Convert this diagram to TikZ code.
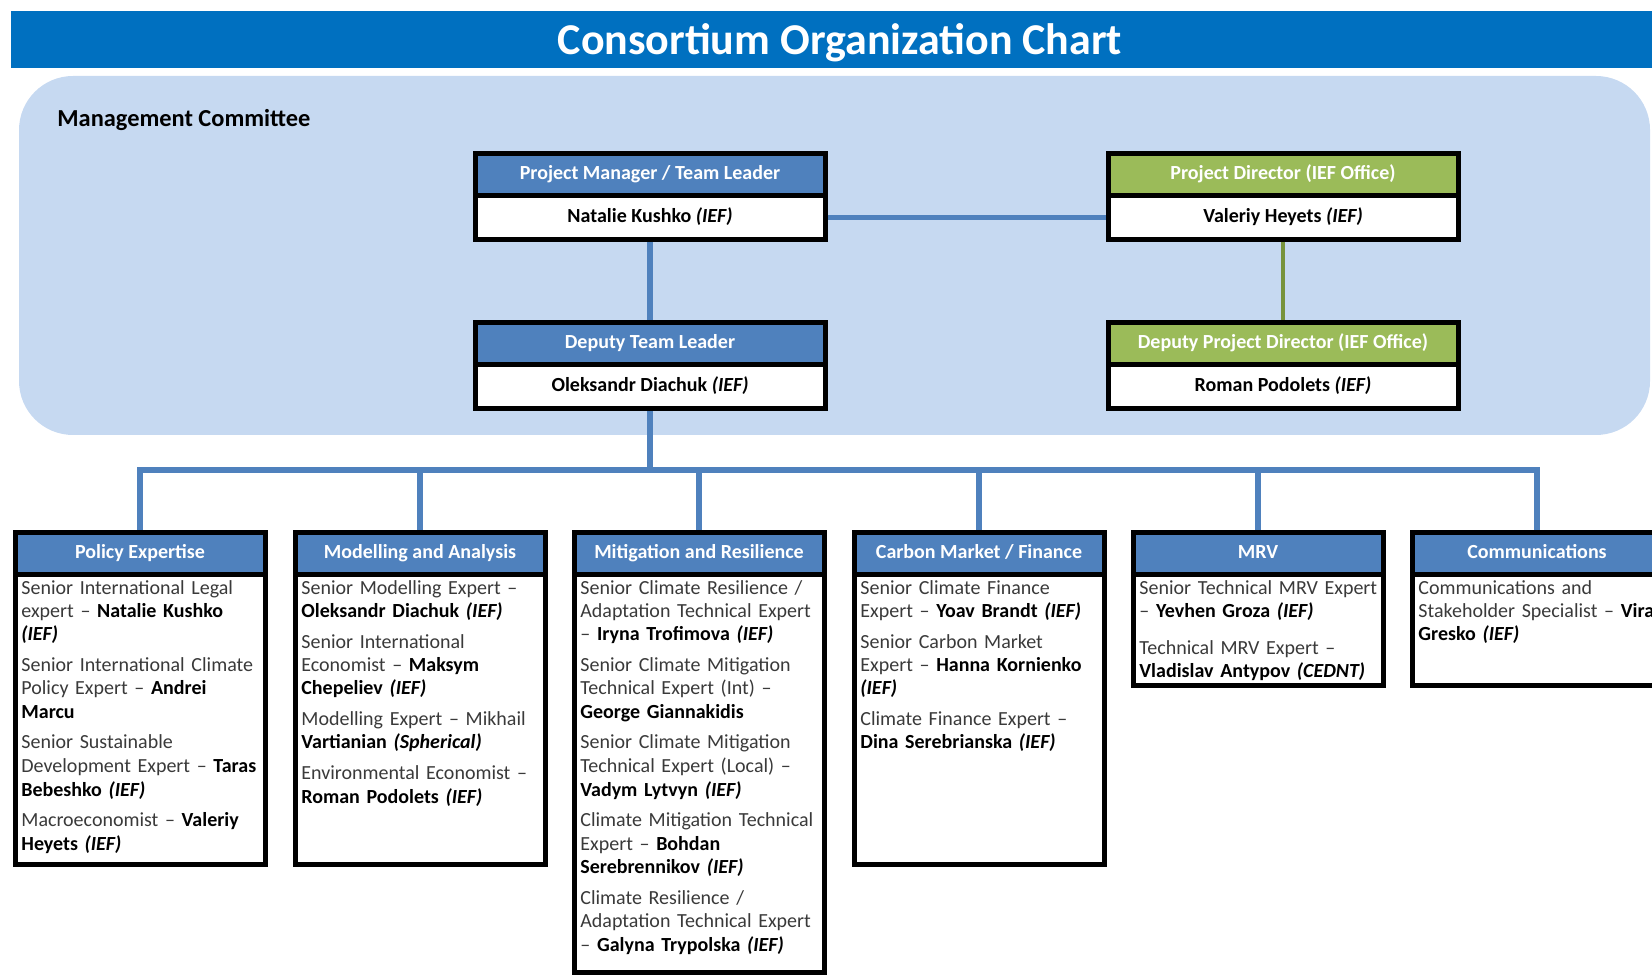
\documentclass[tikz,border=0pt]{standalone}
\usepackage{fontspec}
\setmainfont{Carlito}

\definecolor{titleblue}{HTML}{0070C0}
\definecolor{mgmtbg}{HTML}{C6D9F1}
\definecolor{hdrblue}{HTML}{4F81BD}
\definecolor{hdrgreen}{HTML}{9BBB59}
\definecolor{linkblue}{HTML}{4F81BD}
\definecolor{linkgreen}{HTML}{77933C}
\definecolor{roletext}{HTML}{3A3A3A}

\newcommand{\who}[1]{\textcolor{black}{\textbf{#1}}}

\tikzset{
  hdr/.style={draw=black, line width=2.5pt, fill=hdrblue, text=white, inner sep=0pt, outer sep=0pt,
    text height=7pt, text depth=2pt, font=\bfseries\fontsize{10}{12}\selectfont},
  hdrtop/.style={hdr, minimum width=175pt, minimum height=21pt},
  hdrbot/.style={hdr, minimum width=125pt, minimum height=21pt},
  nametop/.style={draw=black, line width=2.5pt, fill=white, inner sep=0pt, outer sep=0pt, anchor=north,
    minimum width=175pt, minimum height=22pt, text height=7pt, text depth=2pt,
    font=\bfseries\fontsize{10}{12}\selectfont},
  team/.style={draw=black, line width=2.5pt, fill=white, inner sep=0pt, outer sep=0pt, anchor=north,
    minimum width=125pt},
  members/.style={anchor=base west, inner sep=0pt, text width=150pt, align=left, text=roletext,
    font=\fontsize{10}{11.75}\selectfont},
  link/.style={draw=linkblue, line width=2.75pt, shorten <=1.25pt, shorten >=1.25pt},
  greenlink/.style={draw=linkgreen, line width=1.75pt, shorten <=1.25pt, shorten >=1.25pt}
}

\begin{document}
\begin{tikzpicture}[x=0.5pt, y=-0.5pt]
  \useasboundingbox (0,0) rectangle (1652,977);
  \clip (0,0) rectangle (1652,977);

  % title bar
  \fill[titleblue] (11,11) rectangle (1669,68);
  \node[text=white, inner sep=0pt, text height=14pt, text depth=0pt,
    font=\bfseries\fontsize{22}{26}\selectfont] (title) at (840,40.5) {Consortium Organization Chart};

  % management committee
  \fill[mgmtbg, rounded corners=27pt] (19,76) rectangle (1650,435);
  \node[anchor=west, inner sep=0pt, font=\bfseries\fontsize{12.2}{14}\selectfont] (mgmt) at (57,120) {Management Committee};

  \node[hdrtop] (pmh) at (650,174.5) {Project Manager / Team Leader};
  \node[nametop] (pmb) at (pmh.south) {Natalie Kushko \textit{(IEF)}};

  \node[hdrtop, fill=hdrgreen] (pdh) at (1283,174.5) {Project Director (IEF Office)};
  \node[nametop] (pdb) at (pdh.south) {Valeriy Heyets \textit{(IEF)}};

  \node[hdrtop] (dtlh) at (650,344) {Deputy Team Leader};
  \node[nametop] (dtlb) at (dtlh.south) {Oleksandr Diachuk \textit{(IEF)}};

  \node[hdrtop, fill=hdrgreen] (dpdh) at (1283,344) {Deputy Project Director (IEF Office)};
  \node[nametop] (dpdb) at (dpdh.south) {Roman Podolets \textit{(IEF)}};

  \draw[link] (pmb.east) -- (pdb.west);
  \draw[link] (pmb.south) -- (dtlh.north);
  \draw[greenlink] (pdb.south) -- (dpdh.north);

  % teams
  \node[hdrbot] (polh) at (140,553.5) {Policy Expertise};
  \node[team, minimum height=145pt] (polb) at (polh.south) {};
  \node[members] (polt) at ([xshift=3pt, yshift=-9.75pt]polb.north west) {%
    Senior International Legal\\ expert – \who{Natalie Kushko}\\ \who{\textit{(IEF)}}\\[3.5pt]
    Senior International Climate\\ Policy Expert – \who{Andrei}\\ \who{Marcu}\\[3.5pt]
    Senior Sustainable\\ Development Expert – \who{Taras}\\ \who{Bebeshko \textit{(IEF)}}\\[3.5pt]
    Macroeconomist – \who{Valeriy}\\ \who{Heyets \textit{(IEF)}}};

  \node[hdrbot] (modh) at (420,553.5) {Modelling and Analysis};
  \node[team, minimum height=145pt] (modb) at (modh.south) {};
  \node[members] (modt) at ([xshift=3pt, yshift=-9.75pt]modb.north west) {%
    Senior Modelling Expert –\\ \who{Oleksandr Diachuk \textit{(IEF)}}\\[3.5pt]
    Senior International\\ Economist – \who{Maksym}\\ \who{Chepeliev \textit{(IEF)}}\\[3.5pt]
    Modelling Expert – Mikhail\\ \who{Vartianian \textit{(Spherical)}}\\[3.5pt]
    Environmental Economist –\\ \who{Roman Podolets \textit{(IEF)}}};

  \node[hdrbot] (mith) at (699,553.5) {Mitigation and Resilience};
  \node[team, minimum height=199pt] (mitb) at (mith.south) {};
  \node[members] (mitt) at ([xshift=3pt, yshift=-9.75pt]mitb.north west) {%
    Senior Climate Resilience /\\ Adaptation Technical Expert\\ – \who{Iryna Trofimova \textit{(IEF)}}\\[3.5pt]
    Senior Climate Mitigation\\ Technical Expert (Int) –\\ \who{George Giannakidis}\\[3.5pt]
    Senior Climate Mitigation\\ Technical Expert (Local) –\\ \who{Vadym Lytvyn \textit{(IEF)}}\\[3.5pt]
    Climate Mitigation Technical\\ Expert – \who{Bohdan}\\ \who{Serebrennikov \textit{(IEF)}}\\[3.5pt]
    Climate Resilience /\\ Adaptation Technical Expert\\ – \who{Galyna Trypolska \textit{(IEF)}}};

  \node[hdrbot] (carh) at (979,553.5) {Carbon Market / Finance};
  \node[team, minimum height=145pt] (carb) at (carh.south) {};
  \node[members] (cart) at ([xshift=3pt, yshift=-9.75pt]carb.north west) {%
    Senior Climate Finance\\ Expert – \who{Yoav Brandt \textit{(IEF)}}\\[3.5pt]
    Senior Carbon Market\\ Expert – \who{Hanna Kornienko}\\ \who{\textit{(IEF)}}\\[3.5pt]
    Climate Finance Expert –\\ \who{Dina Serebrianska \textit{(IEF)}}};

  \node[hdrbot] (mrvh) at (1258,553.5) {MRV};
  \node[team, minimum height=55.5pt] (mrvb) at (mrvh.south) {};
  \node[members] (mrvt) at ([xshift=3pt, yshift=-9.75pt]mrvb.north west) {%
    Senior Technical MRV Expert\\ – \who{Yevhen Groza \textit{(IEF)}}\\[6.5pt]
    Technical MRV Expert –\\ \who{Vladislav Antypov \textit{(CEDNT)}}};

  \node[hdrbot] (comh) at (1537,553.5) {Communications};
  \node[team, minimum height=55.5pt] (comb) at (comh.south) {};
  \node[members] (comt) at ([xshift=3pt, yshift=-9.75pt]comb.north west) {%
    Communications and\\ Stakeholder Specialist – \who{Vira}\\ \who{Gresko \textit{(IEF)}}};

  % bus to the teams
  \coordinate (bus) at (650,470);
  \draw[link] (dtlb.south) -- (bus);
  \draw[link] (polh.north) |- (bus) -| (comh.north);
  \draw[link] (bus -| modh.north) -- (modh.north);
  \draw[link] (bus -| mith.north) -- (mith.north);
  \draw[link] (bus -| carh.north) -- (carh.north);
  \draw[link] (bus -| mrvh.north) -- (mrvh.north);
\end{tikzpicture}
\end{document}
